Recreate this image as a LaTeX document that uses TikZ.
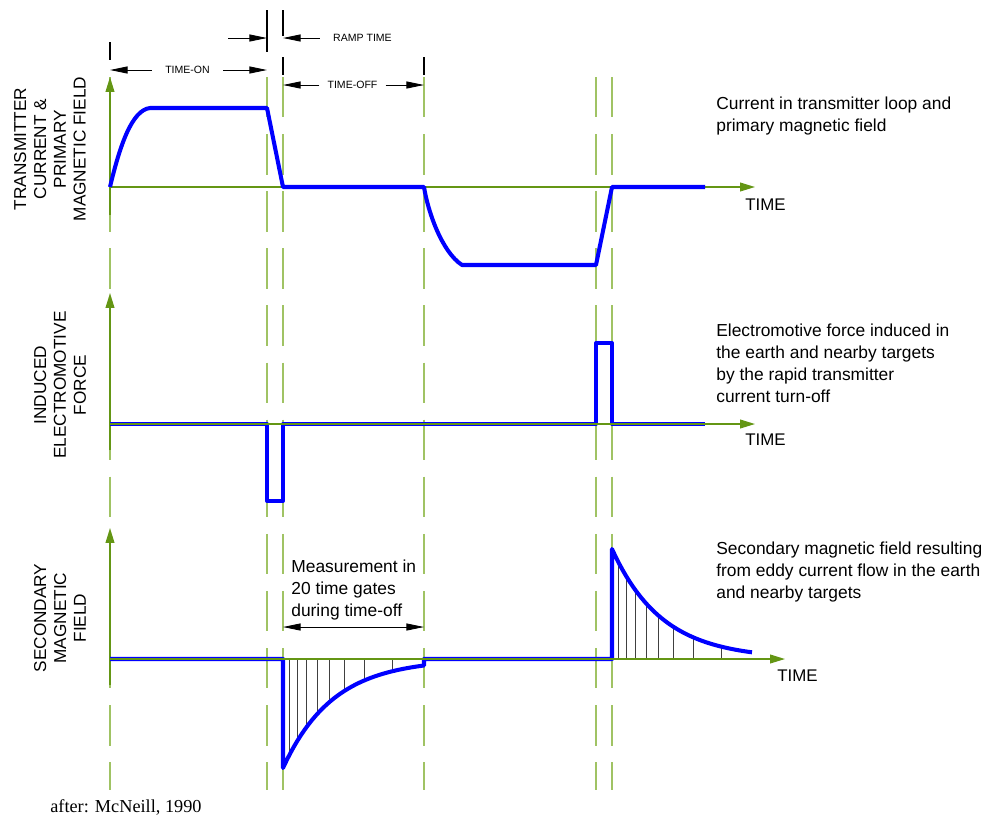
\documentclass[tikz,border=0pt]{standalone}
\usepackage{fontspec}
\setmainfont{Liberation Sans}
\newfontfamily\refserif{Liberation Serif}
\usetikzlibrary{arrows.meta}
\definecolor{gategreen}{RGB}{160,195,100}
\definecolor{axisgreen}{RGB}{100,150,20}
\definecolor{pulseblue}{RGB}{0,0,255}
\begin{document}
\begin{tikzpicture}[x=0.02cm,y=-0.02cm,line join=round,
    gate/.style={gategreen,line width=1pt,dash pattern=on 23pt off 9.5pt},
    axis/.style={axisgreen,line width=0.8pt,-{Triangle[length=8.5pt,width=5pt]}},
    wave/.style={pulseblue,line width=2.3pt},
    dim/.style={black,line width=0.5pt,-{Triangle[length=10pt,width=4pt]}},
    tick/.style={black,line width=0.6pt},
    hatch/.style={black!75,line width=0.5pt},
    note/.style={inner sep=0pt,anchor=north west,align=left,font=\fontsize{9.9}{12.4}\selectfont},
    ylab/.style={inner sep=0pt,rotate=90,align=center,font=\fontsize{9.8}{11.3}\selectfont},
    timelab/.style={inner sep=0pt,anchor=west,font=\fontsize{9.6}{11}\selectfont},
    dimlab/.style={inner ysep=0pt,inner xsep=7.4pt,font=\fontsize{6}{7}\selectfont}]
  \useasboundingbox (0,0) rectangle (987,819);
  \foreach \gx in {110,267,283,424,596,612}
    \draw[gate] (\gx,77) -- (\gx,790);
  \draw[tick] (110,42) -- (110,60) (267,10) -- (267,52) (283,10) -- (283,36) (283,57) -- (283,75) (424,57) -- (424,75);
  % dimension arrows
  \coordinate (onL) at (110,70);
  \coordinate (onR) at (267,70);
  \coordinate (rampT) at (228,38);
  \coordinate (rampL) at (267,38);
  \coordinate (rampR) at (283,38);
  \coordinate (offL) at (283,85);
  \coordinate (offR) at (424,85);
  \node[dimlab] (ton) at (187.5,70) {TIME-ON};
  \node[dimlab] (ramp) at (362.5,38) {RAMP TIME};
  \node[dimlab,inner xsep=4.5pt] (toff) at (352.5,85) {TIME-OFF};
  \draw[dim] (ton) -- (onL);
  \draw[dim] (ton) -- (onR);
  \draw[dim] (rampT) -- (rampL);
  \draw[dim] (ramp) -- (rampR);
  \draw[dim] (toff) -- (offL);
  \draw[dim] (toff) -- (offR);
  % transmitter current
  \draw[axis] (110,215) -- (110,77);
  \draw[axis] (110,187) -- (755,187);
  \draw[wave] (110,187) .. controls (120,145) and (132,110) .. (150,108) -- (267,108) -- (283,187) -- (424,187)
    .. controls (428,212) and (442,252) .. (462,265) -- (596,265) -- (612,187) -- (705,187);
  % induced emf
  \draw[axis] (110,450) -- (110,293);
  \draw[wave] (110,424) -- (267,424) -- (267,501) -- (283,501) -- (283,424) -- (596,424) -- (596,343) -- (612,343) -- (612,424) -- (705,424);
  \draw[axis] (110,424) -- (755,424);
  % secondary field
  \draw[axis] (110,685) -- (110,528);
  \foreach \d in {6,14,23,34,46,61,81,109} {
    \draw[hatch] (283+\d,659) -- (283+\d,{659+109*exp(-\d/50)});
    \draw[hatch] (612+\d,659) -- (612+\d,{659-110*exp(-\d/50)});
  }
  \draw[wave] (110,659) -- (283,659) -- (283,768) -- plot[domain=283:424,samples=40] (\x,{659+109*exp(-(\x-283)/50)})
    -- (424,659) -- (612,659) -- (612,549) -- plot[domain=612:752,samples=40] (\x,{659-110*exp(-(\x-612)/50)});
  \draw[axis] (110,659) -- (785,659);
  \coordinate (mL) at (283,627);
  \coordinate (mR) at (424,627);
  \draw[dim,{Triangle[length=10pt,width=4pt]}-{Triangle[length=10pt,width=4pt]}] (mL) -- (mR);
  % labels
  \node[timelab] (time1) at (745,205) {TIME};
  \node[timelab] (time2) at (745,440) {TIME};
  \node[timelab] (time3) at (777,676) {TIME};
  \node[ylab] (ylab1) at (50,149) {TRANSMITTER\\CURRENT \&\\PRIMARY\\MAGNETIC FIELD};
  \node[ylab] (ylab2) at (60,385) {INDUCED\\ELECTROMOTIVE\\FORCE};
  \node[ylab] (ylab3) at (60,618) {SECONDARY\\MAGNETIC\\FIELD};
  \node[note] (note1) at (716,97) {Current in transmitter loop and\\primary magnetic field};
  \node[note] (note2) at (716,324) {Electromotive force induced in\\the earth and nearby targets\\by the rapid transmitter\\current turn-off};
  \node[note] (note3) at (716,542) {Secondary magnetic field resulting\\from eddy current flow in the earth\\and nearby targets};
  \node[note] (meas) at (291,560) {Measurement in\\20 time gates\\during time-off};
  \node[inner sep=0pt,anchor=west,font=\refserif\fontsize{10.4}{12}\selectfont] (src) at (50,807) {after: McNeill, 1990};
\end{tikzpicture}
\end{document}
